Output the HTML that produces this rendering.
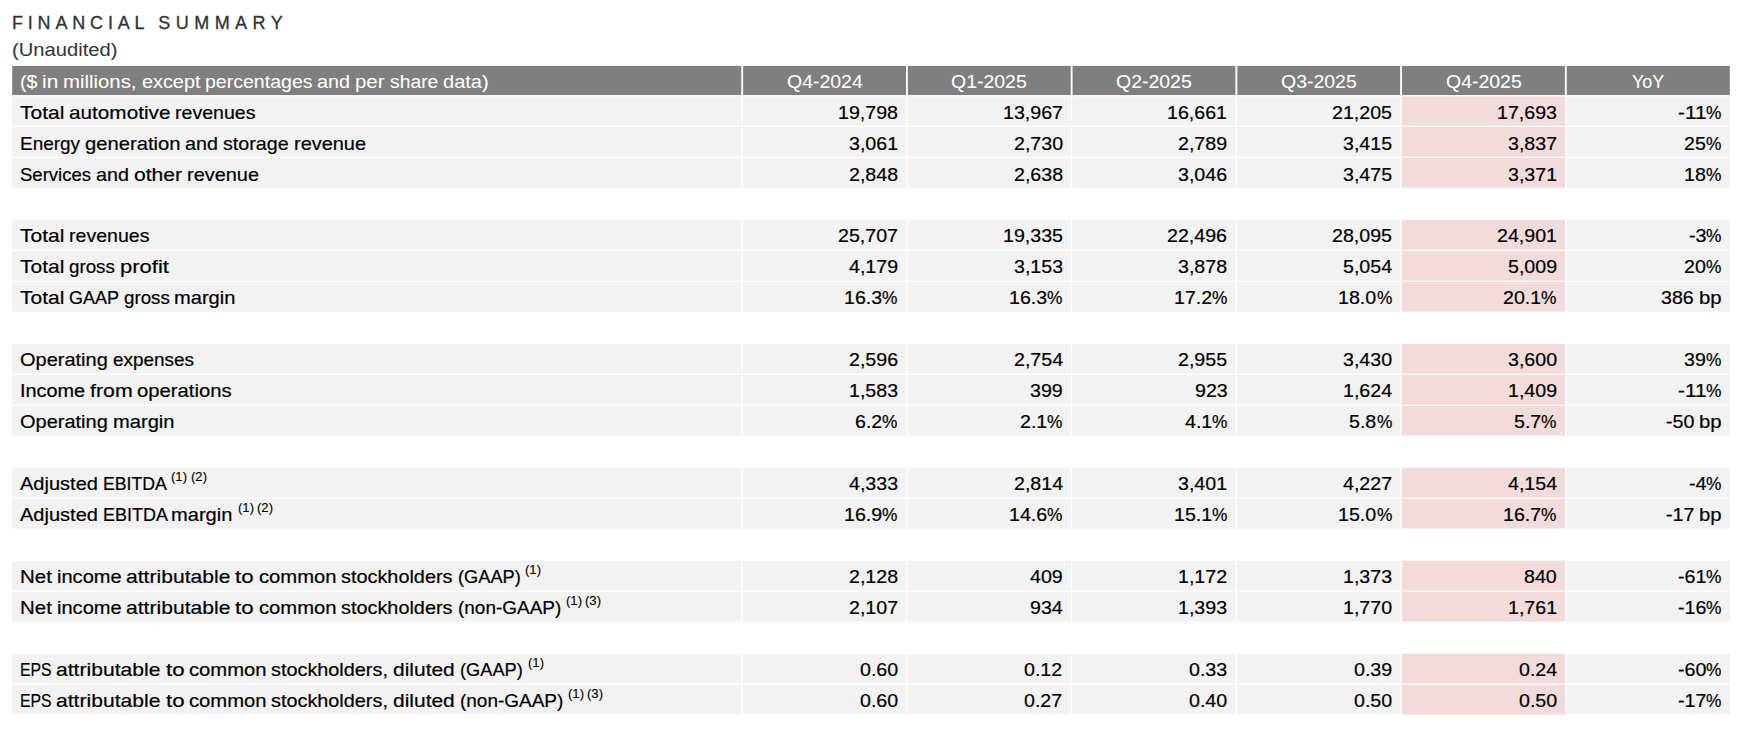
<!DOCTYPE html>
<html lang="en"><head><meta charset="utf-8"><title>Financial Summary</title>
<style>
html,body{margin:0;padding:0;background:#fff;}
body{width:1762px;height:731px;position:relative;overflow:hidden;font-family:"Liberation Sans",sans-serif;color:#000;}
svg{position:absolute;left:0;top:0;}
.t{position:absolute;white-space:nowrap;}
.title{top:11.4px;font-size:18px;line-height:22px;color:#333;-webkit-text-stroke:0.3px currentColor;}
.x{position:absolute;white-space:pre;font-size:19.0px;line-height:30px;height:30px;}
.x i{font-style:normal;position:absolute;left:0;top:0;transform-origin:0 0;}
.x{-webkit-text-stroke:0.2px currentColor;}
.h{color:#fff;-webkit-text-stroke:0.05px currentColor;}
.s{font-size:12.0px;-webkit-text-stroke:0.1px currentColor;}
.sub{color:#33373d;-webkit-text-stroke:0.05px currentColor;}
</style></head>
<body>
<svg width="1762" height="731" viewBox="0 0 1762 731">
<rect x="12.20" y="65.90" width="729.05" height="29.15" fill="#7f7f7f"/>
<rect x="743.15" y="65.90" width="162.82" height="29.15" fill="#7f7f7f"/>
<rect x="907.87" y="65.90" width="162.82" height="29.15" fill="#7f7f7f"/>
<rect x="1072.59" y="65.90" width="162.82" height="29.15" fill="#7f7f7f"/>
<rect x="1237.31" y="65.90" width="162.82" height="29.15" fill="#7f7f7f"/>
<rect x="1402.03" y="65.90" width="162.82" height="29.15" fill="#7f7f7f"/>
<rect x="1566.75" y="65.90" width="163.05" height="29.15" fill="#7f7f7f"/>
<rect x="12.20" y="96.40" width="729.35" height="29.34" fill="#f2f2f2"/>
<rect x="742.85" y="96.40" width="163.42" height="29.34" fill="#f2f2f2"/>
<rect x="907.57" y="96.40" width="163.42" height="29.34" fill="#f2f2f2"/>
<rect x="1072.29" y="96.40" width="163.42" height="29.34" fill="#f2f2f2"/>
<rect x="1237.01" y="96.40" width="163.42" height="29.34" fill="#f2f2f2"/>
<rect x="1401.73" y="96.40" width="163.42" height="29.34" fill="#f2dcdb"/>
<rect x="1566.45" y="96.40" width="163.35" height="29.34" fill="#f2f2f2"/>
<rect x="12.20" y="126.94" width="729.35" height="29.79" fill="#f2f2f2"/>
<rect x="742.85" y="126.94" width="163.42" height="29.79" fill="#f2f2f2"/>
<rect x="907.57" y="126.94" width="163.42" height="29.79" fill="#f2f2f2"/>
<rect x="1072.29" y="126.94" width="163.42" height="29.79" fill="#f2f2f2"/>
<rect x="1237.01" y="126.94" width="163.42" height="29.79" fill="#f2f2f2"/>
<rect x="1401.73" y="126.94" width="163.42" height="29.79" fill="#f2dcdb"/>
<rect x="1566.45" y="126.94" width="163.35" height="29.79" fill="#f2f2f2"/>
<rect x="12.20" y="157.93" width="729.35" height="29.79" fill="#f2f2f2"/>
<rect x="742.85" y="157.93" width="163.42" height="29.79" fill="#f2f2f2"/>
<rect x="907.57" y="157.93" width="163.42" height="29.79" fill="#f2f2f2"/>
<rect x="1072.29" y="157.93" width="163.42" height="29.79" fill="#f2f2f2"/>
<rect x="1237.01" y="157.93" width="163.42" height="29.79" fill="#f2f2f2"/>
<rect x="1401.73" y="157.93" width="163.42" height="29.79" fill="#f2dcdb"/>
<rect x="1566.45" y="157.93" width="163.35" height="29.79" fill="#f2f2f2"/>
<rect x="12.20" y="219.91" width="729.35" height="29.79" fill="#f2f2f2"/>
<rect x="742.85" y="219.91" width="163.42" height="29.79" fill="#f2f2f2"/>
<rect x="907.57" y="219.91" width="163.42" height="29.79" fill="#f2f2f2"/>
<rect x="1072.29" y="219.91" width="163.42" height="29.79" fill="#f2f2f2"/>
<rect x="1237.01" y="219.91" width="163.42" height="29.79" fill="#f2f2f2"/>
<rect x="1401.73" y="219.91" width="163.42" height="29.79" fill="#f2dcdb"/>
<rect x="1566.45" y="219.91" width="163.35" height="29.79" fill="#f2f2f2"/>
<rect x="12.20" y="250.90" width="729.35" height="29.79" fill="#f2f2f2"/>
<rect x="742.85" y="250.90" width="163.42" height="29.79" fill="#f2f2f2"/>
<rect x="907.57" y="250.90" width="163.42" height="29.79" fill="#f2f2f2"/>
<rect x="1072.29" y="250.90" width="163.42" height="29.79" fill="#f2f2f2"/>
<rect x="1237.01" y="250.90" width="163.42" height="29.79" fill="#f2f2f2"/>
<rect x="1401.73" y="250.90" width="163.42" height="29.79" fill="#f2dcdb"/>
<rect x="1566.45" y="250.90" width="163.35" height="29.79" fill="#f2f2f2"/>
<rect x="12.20" y="281.89" width="729.35" height="29.79" fill="#f2f2f2"/>
<rect x="742.85" y="281.89" width="163.42" height="29.79" fill="#f2f2f2"/>
<rect x="907.57" y="281.89" width="163.42" height="29.79" fill="#f2f2f2"/>
<rect x="1072.29" y="281.89" width="163.42" height="29.79" fill="#f2f2f2"/>
<rect x="1237.01" y="281.89" width="163.42" height="29.79" fill="#f2f2f2"/>
<rect x="1401.73" y="281.89" width="163.42" height="29.79" fill="#f2dcdb"/>
<rect x="1566.45" y="281.89" width="163.35" height="29.79" fill="#f2f2f2"/>
<rect x="12.20" y="343.87" width="729.35" height="29.79" fill="#f2f2f2"/>
<rect x="742.85" y="343.87" width="163.42" height="29.79" fill="#f2f2f2"/>
<rect x="907.57" y="343.87" width="163.42" height="29.79" fill="#f2f2f2"/>
<rect x="1072.29" y="343.87" width="163.42" height="29.79" fill="#f2f2f2"/>
<rect x="1237.01" y="343.87" width="163.42" height="29.79" fill="#f2f2f2"/>
<rect x="1401.73" y="343.87" width="163.42" height="29.79" fill="#f2dcdb"/>
<rect x="1566.45" y="343.87" width="163.35" height="29.79" fill="#f2f2f2"/>
<rect x="12.20" y="374.86" width="729.35" height="29.79" fill="#f2f2f2"/>
<rect x="742.85" y="374.86" width="163.42" height="29.79" fill="#f2f2f2"/>
<rect x="907.57" y="374.86" width="163.42" height="29.79" fill="#f2f2f2"/>
<rect x="1072.29" y="374.86" width="163.42" height="29.79" fill="#f2f2f2"/>
<rect x="1237.01" y="374.86" width="163.42" height="29.79" fill="#f2f2f2"/>
<rect x="1401.73" y="374.86" width="163.42" height="29.79" fill="#f2dcdb"/>
<rect x="1566.45" y="374.86" width="163.35" height="29.79" fill="#f2f2f2"/>
<rect x="12.20" y="405.85" width="729.35" height="29.79" fill="#f2f2f2"/>
<rect x="742.85" y="405.85" width="163.42" height="29.79" fill="#f2f2f2"/>
<rect x="907.57" y="405.85" width="163.42" height="29.79" fill="#f2f2f2"/>
<rect x="1072.29" y="405.85" width="163.42" height="29.79" fill="#f2f2f2"/>
<rect x="1237.01" y="405.85" width="163.42" height="29.79" fill="#f2f2f2"/>
<rect x="1401.73" y="405.85" width="163.42" height="29.79" fill="#f2dcdb"/>
<rect x="1566.45" y="405.85" width="163.35" height="29.79" fill="#f2f2f2"/>
<rect x="12.20" y="467.83" width="729.35" height="29.79" fill="#f2f2f2"/>
<rect x="742.85" y="467.83" width="163.42" height="29.79" fill="#f2f2f2"/>
<rect x="907.57" y="467.83" width="163.42" height="29.79" fill="#f2f2f2"/>
<rect x="1072.29" y="467.83" width="163.42" height="29.79" fill="#f2f2f2"/>
<rect x="1237.01" y="467.83" width="163.42" height="29.79" fill="#f2f2f2"/>
<rect x="1401.73" y="467.83" width="163.42" height="29.79" fill="#f2dcdb"/>
<rect x="1566.45" y="467.83" width="163.35" height="29.79" fill="#f2f2f2"/>
<rect x="12.20" y="498.82" width="729.35" height="29.79" fill="#f2f2f2"/>
<rect x="742.85" y="498.82" width="163.42" height="29.79" fill="#f2f2f2"/>
<rect x="907.57" y="498.82" width="163.42" height="29.79" fill="#f2f2f2"/>
<rect x="1072.29" y="498.82" width="163.42" height="29.79" fill="#f2f2f2"/>
<rect x="1237.01" y="498.82" width="163.42" height="29.79" fill="#f2f2f2"/>
<rect x="1401.73" y="498.82" width="163.42" height="29.79" fill="#f2dcdb"/>
<rect x="1566.45" y="498.82" width="163.35" height="29.79" fill="#f2f2f2"/>
<rect x="12.20" y="560.80" width="729.35" height="29.79" fill="#f2f2f2"/>
<rect x="742.85" y="560.80" width="163.42" height="29.79" fill="#f2f2f2"/>
<rect x="907.57" y="560.80" width="163.42" height="29.79" fill="#f2f2f2"/>
<rect x="1072.29" y="560.80" width="163.42" height="29.79" fill="#f2f2f2"/>
<rect x="1237.01" y="560.80" width="163.42" height="29.79" fill="#f2f2f2"/>
<rect x="1401.73" y="560.80" width="163.42" height="29.79" fill="#f2dcdb"/>
<rect x="1566.45" y="560.80" width="163.35" height="29.79" fill="#f2f2f2"/>
<rect x="12.20" y="591.79" width="729.35" height="29.79" fill="#f2f2f2"/>
<rect x="742.85" y="591.79" width="163.42" height="29.79" fill="#f2f2f2"/>
<rect x="907.57" y="591.79" width="163.42" height="29.79" fill="#f2f2f2"/>
<rect x="1072.29" y="591.79" width="163.42" height="29.79" fill="#f2f2f2"/>
<rect x="1237.01" y="591.79" width="163.42" height="29.79" fill="#f2f2f2"/>
<rect x="1401.73" y="591.79" width="163.42" height="29.79" fill="#f2dcdb"/>
<rect x="1566.45" y="591.79" width="163.35" height="29.79" fill="#f2f2f2"/>
<rect x="12.20" y="653.77" width="729.35" height="29.79" fill="#f2f2f2"/>
<rect x="742.85" y="653.77" width="163.42" height="29.79" fill="#f2f2f2"/>
<rect x="907.57" y="653.77" width="163.42" height="29.79" fill="#f2f2f2"/>
<rect x="1072.29" y="653.77" width="163.42" height="29.79" fill="#f2f2f2"/>
<rect x="1237.01" y="653.77" width="163.42" height="29.79" fill="#f2f2f2"/>
<rect x="1401.73" y="653.77" width="163.42" height="29.79" fill="#f2dcdb"/>
<rect x="1566.45" y="653.77" width="163.35" height="29.79" fill="#f2f2f2"/>
<rect x="12.20" y="684.76" width="729.35" height="29.79" fill="#f2f2f2"/>
<rect x="742.85" y="684.76" width="163.42" height="29.79" fill="#f2f2f2"/>
<rect x="907.57" y="684.76" width="163.42" height="29.79" fill="#f2f2f2"/>
<rect x="1072.29" y="684.76" width="163.42" height="29.79" fill="#f2f2f2"/>
<rect x="1237.01" y="684.76" width="163.42" height="29.79" fill="#f2f2f2"/>
<rect x="1401.73" y="684.76" width="163.42" height="29.79" fill="#f2dcdb"/>
<rect x="1566.45" y="684.76" width="163.35" height="29.79" fill="#f2f2f2"/>
</svg>
<div class="t title" style="left:11.9px;top:12px"><span style="letter-spacing:4.84px">FINANCIAL </span><span style="position:absolute;left:146.4px;letter-spacing:5.45px">SUMMARY</span></div>
<div class="x sub" style="left:11.50px;top:35.00px"><i style="left:0.00px;transform:scaleX(1.0615)">(Unaudited)</i></div>
<div class="x h" style="left:19.90px;top:67.00px"><i style="left:0.00px;transform:scaleX(1.0333)">($ </i><i style="left:22.31px;transform:scaleX(1.1003)">in </i><i style="left:43.45px;transform:scaleX(1.0708)">millions, </i><i style="left:121.80px;transform:scaleX(1.0438)">except </i><i style="left:185.09px;transform:scaleX(1.0282)">percentages </i><i style="left:297.50px;transform:scaleX(1.0399)">and </i><i style="left:335.34px;transform:scaleX(1.0756)">per </i><i style="left:369.77px;transform:scaleX(1.0161)">share </i><i style="left:422.94px;transform:scaleX(1.0552)">data)</i></div>
<div class="x h" style="left:786.71px;top:67.00px"><i style="left:0.00px;transform:scaleX(1.0237)">Q4-2024</i></div>
<div class="x h" style="left:951.43px;top:67.00px"><i style="left:0.00px;transform:scaleX(1.0237)">Q1-2025</i></div>
<div class="x h" style="left:1116.15px;top:67.00px"><i style="left:0.00px;transform:scaleX(1.0237)">Q2-2025</i></div>
<div class="x h" style="left:1280.87px;top:67.00px"><i style="left:0.00px;transform:scaleX(1.0237)">Q3-2025</i></div>
<div class="x h" style="left:1445.59px;top:67.00px"><i style="left:0.00px;transform:scaleX(1.0237)">Q4-2025</i></div>
<div class="x h" style="left:1631.97px;top:67.00px"><i style="left:0.00px;transform:scaleX(0.9474)">YoY</i></div>
<div class="x " style="left:19.90px;top:98.00px"><i style="left:0.00px;transform:scaleX(1.1051)">Total </i><i style="left:49.20px;transform:scaleX(1.0913)">automotive </i><i style="left:155.48px;transform:scaleX(1.0298)">revenues</i></div>
<div class="x " style="left:837.89px;top:98.00px"><i style="left:0.00px;transform:scaleX(1.0320)">19,798</i></div>
<div class="x " style="left:1002.61px;top:98.00px"><i style="left:0.00px;transform:scaleX(1.0320)">13,967</i></div>
<div class="x " style="left:1167.33px;top:98.00px"><i style="left:0.00px;transform:scaleX(1.0320)">16,661</i></div>
<div class="x " style="left:1332.05px;top:98.00px"><i style="left:0.00px;transform:scaleX(1.0320)">21,205</i></div>
<div class="x " style="left:1496.77px;top:98.00px"><i style="left:0.00px;transform:scaleX(1.0320)">17,693</i></div>
<div class="x " style="left:1677.61px;top:98.00px"><i style="left:0.00px;transform:scaleX(1.0917)">-11</i><i style="left:28.45px;transform:scaleX(0.9113)">%</i></div>
<div class="x " style="left:19.90px;top:129.00px"><i style="left:0.00px;transform:scaleX(0.9964)">Energy </i><i style="left:64.83px;transform:scaleX(1.0645)">generation </i><i style="left:165.28px;transform:scaleX(1.0399)">and </i><i style="left:203.12px;transform:scaleX(1.0367)">storage </i><i style="left:273.69px;transform:scaleX(1.0491)">revenue</i></div>
<div class="x " style="left:848.81px;top:129.00px"><i style="left:0.00px;transform:scaleX(1.0319)">3,061</i></div>
<div class="x " style="left:1013.53px;top:129.00px"><i style="left:0.00px;transform:scaleX(1.0319)">2,730</i></div>
<div class="x " style="left:1178.25px;top:129.00px"><i style="left:0.00px;transform:scaleX(1.0319)">2,789</i></div>
<div class="x " style="left:1342.97px;top:129.00px"><i style="left:0.00px;transform:scaleX(1.0319)">3,415</i></div>
<div class="x " style="left:1507.69px;top:129.00px"><i style="left:0.00px;transform:scaleX(1.0319)">3,837</i></div>
<div class="x " style="left:1684.22px;top:129.00px"><i style="left:0.00px;transform:scaleX(1.0333)">25</i><i style="left:21.84px;transform:scaleX(0.9113)">%</i></div>
<div class="x " style="left:19.90px;top:160.00px"><i style="left:0.00px;transform:scaleX(0.9756)">Services </i><i style="left:75.94px;transform:scaleX(1.0394)">and </i><i style="left:113.77px;transform:scaleX(1.1118)">other </i><i style="left:166.77px;transform:scaleX(1.0491)">revenue</i></div>
<div class="x " style="left:848.81px;top:160.00px"><i style="left:0.00px;transform:scaleX(1.0319)">2,848</i></div>
<div class="x " style="left:1013.53px;top:160.00px"><i style="left:0.00px;transform:scaleX(1.0319)">2,638</i></div>
<div class="x " style="left:1178.25px;top:160.00px"><i style="left:0.00px;transform:scaleX(1.0319)">3,046</i></div>
<div class="x " style="left:1342.97px;top:160.00px"><i style="left:0.00px;transform:scaleX(1.0319)">3,475</i></div>
<div class="x " style="left:1507.69px;top:160.00px"><i style="left:0.00px;transform:scaleX(1.0319)">3,371</i></div>
<div class="x " style="left:1684.22px;top:160.00px"><i style="left:0.00px;transform:scaleX(1.0333)">18</i><i style="left:21.84px;transform:scaleX(0.9113)">%</i></div>
<div class="x " style="left:19.90px;top:221.00px"><i style="left:0.00px;transform:scaleX(1.1051)">Total </i><i style="left:49.20px;transform:scaleX(1.0298)">revenues</i></div>
<div class="x " style="left:837.89px;top:221.00px"><i style="left:0.00px;transform:scaleX(1.0320)">25,707</i></div>
<div class="x " style="left:1002.61px;top:221.00px"><i style="left:0.00px;transform:scaleX(1.0320)">19,335</i></div>
<div class="x " style="left:1167.33px;top:221.00px"><i style="left:0.00px;transform:scaleX(1.0320)">22,496</i></div>
<div class="x " style="left:1332.05px;top:221.00px"><i style="left:0.00px;transform:scaleX(1.0320)">28,095</i></div>
<div class="x " style="left:1496.77px;top:221.00px"><i style="left:0.00px;transform:scaleX(1.0320)">24,901</i></div>
<div class="x " style="left:1688.53px;top:221.00px"><i style="left:0.00px;transform:scaleX(1.0370)">-3</i><i style="left:17.53px;transform:scaleX(0.9113)">%</i></div>
<div class="x " style="left:19.90px;top:252.00px"><i style="left:0.00px;transform:scaleX(1.1051)">Total </i><i style="left:49.20px;transform:scaleX(0.9876)">gross </i><i style="left:99.95px;transform:scaleX(1.1582)">profit</i></div>
<div class="x " style="left:848.81px;top:252.00px"><i style="left:0.00px;transform:scaleX(1.0319)">4,179</i></div>
<div class="x " style="left:1013.53px;top:252.00px"><i style="left:0.00px;transform:scaleX(1.0319)">3,153</i></div>
<div class="x " style="left:1178.25px;top:252.00px"><i style="left:0.00px;transform:scaleX(1.0319)">3,878</i></div>
<div class="x " style="left:1342.97px;top:252.00px"><i style="left:0.00px;transform:scaleX(1.0319)">5,054</i></div>
<div class="x " style="left:1507.69px;top:252.00px"><i style="left:0.00px;transform:scaleX(1.0319)">5,009</i></div>
<div class="x " style="left:1684.22px;top:252.00px"><i style="left:0.00px;transform:scaleX(1.0333)">20</i><i style="left:21.84px;transform:scaleX(0.9113)">%</i></div>
<div class="x " style="left:19.90px;top:283.00px"><i style="left:0.00px;transform:scaleX(1.1051)">Total </i><i style="left:49.20px;transform:scaleX(0.9470)">GAAP </i><i style="left:103.73px;transform:scaleX(0.9876)">gross </i><i style="left:154.48px;transform:scaleX(1.0581)">margin</i></div>
<div class="x " style="left:844.26px;top:283.00px"><i style="left:0.00px;transform:scaleX(1.0330)">16.3</i><i style="left:38.20px;transform:scaleX(0.9113)">%</i></div>
<div class="x " style="left:1008.98px;top:283.00px"><i style="left:0.00px;transform:scaleX(1.0330)">16.3</i><i style="left:38.20px;transform:scaleX(0.9113)">%</i></div>
<div class="x " style="left:1173.70px;top:283.00px"><i style="left:0.00px;transform:scaleX(1.0330)">17.2</i><i style="left:38.20px;transform:scaleX(0.9113)">%</i></div>
<div class="x " style="left:1338.42px;top:283.00px"><i style="left:0.00px;transform:scaleX(1.0330)">18.0</i><i style="left:38.20px;transform:scaleX(0.9113)">%</i></div>
<div class="x " style="left:1503.14px;top:283.00px"><i style="left:0.00px;transform:scaleX(1.0330)">20.1</i><i style="left:38.20px;transform:scaleX(0.9113)">%</i></div>
<div class="x " style="left:1661.19px;top:283.00px"><i style="left:0.00px;transform:scaleX(1.0335)">386 </i><i style="left:37.62px;transform:scaleX(1.0709)">bp</i></div>
<div class="x " style="left:19.90px;top:345.00px"><i style="left:0.00px;transform:scaleX(1.0519)">Operating </i><i style="left:92.62px;transform:scaleX(0.9960)">expenses</i></div>
<div class="x " style="left:848.81px;top:345.00px"><i style="left:0.00px;transform:scaleX(1.0319)">2,596</i></div>
<div class="x " style="left:1013.53px;top:345.00px"><i style="left:0.00px;transform:scaleX(1.0319)">2,754</i></div>
<div class="x " style="left:1178.25px;top:345.00px"><i style="left:0.00px;transform:scaleX(1.0319)">2,955</i></div>
<div class="x " style="left:1342.97px;top:345.00px"><i style="left:0.00px;transform:scaleX(1.0319)">3,430</i></div>
<div class="x " style="left:1507.69px;top:345.00px"><i style="left:0.00px;transform:scaleX(1.0319)">3,600</i></div>
<div class="x " style="left:1684.22px;top:345.00px"><i style="left:0.00px;transform:scaleX(1.0333)">39</i><i style="left:21.84px;transform:scaleX(0.9113)">%</i></div>
<div class="x " style="left:19.90px;top:376.00px"><i style="left:0.00px;transform:scaleX(1.0456)">Income </i><i style="left:70.02px;transform:scaleX(1.1229)">from </i><i style="left:117.55px;transform:scaleX(1.0653)">operations</i></div>
<div class="x " style="left:848.81px;top:376.00px"><i style="left:0.00px;transform:scaleX(1.0319)">1,583</i></div>
<div class="x " style="left:1029.82px;top:376.00px"><i style="left:0.00px;transform:scaleX(1.0335)">399</i></div>
<div class="x " style="left:1194.54px;top:376.00px"><i style="left:0.00px;transform:scaleX(1.0335)">923</i></div>
<div class="x " style="left:1342.97px;top:376.00px"><i style="left:0.00px;transform:scaleX(1.0319)">1,624</i></div>
<div class="x " style="left:1507.69px;top:376.00px"><i style="left:0.00px;transform:scaleX(1.0319)">1,409</i></div>
<div class="x " style="left:1677.61px;top:376.00px"><i style="left:0.00px;transform:scaleX(1.0917)">-11</i><i style="left:28.45px;transform:scaleX(0.9113)">%</i></div>
<div class="x " style="left:19.90px;top:407.00px"><i style="left:0.00px;transform:scaleX(1.0519)">Operating </i><i style="left:92.62px;transform:scaleX(1.0584)">margin</i></div>
<div class="x " style="left:855.18px;top:407.00px"><i style="left:0.00px;transform:scaleX(1.0325)">6.2</i><i style="left:27.28px;transform:scaleX(0.9113)">%</i></div>
<div class="x " style="left:1019.90px;top:407.00px"><i style="left:0.00px;transform:scaleX(1.0325)">2.1</i><i style="left:27.28px;transform:scaleX(0.9113)">%</i></div>
<div class="x " style="left:1184.62px;top:407.00px"><i style="left:0.00px;transform:scaleX(1.0325)">4.1</i><i style="left:27.28px;transform:scaleX(0.9113)">%</i></div>
<div class="x " style="left:1349.34px;top:407.00px"><i style="left:0.00px;transform:scaleX(1.0325)">5.8</i><i style="left:27.28px;transform:scaleX(0.9113)">%</i></div>
<div class="x " style="left:1514.06px;top:407.00px"><i style="left:0.00px;transform:scaleX(1.0325)">5.7</i><i style="left:27.28px;transform:scaleX(0.9113)">%</i></div>
<div class="x " style="left:1665.52px;top:407.00px"><i style="left:0.00px;transform:scaleX(1.0358)">-50 </i><i style="left:33.30px;transform:scaleX(1.0717)">bp</i></div>
<div class="x " style="left:19.90px;top:469.00px"><i style="left:0.00px;transform:scaleX(1.0541)">Adjusted </i><i style="left:82.81px;transform:scaleX(0.9312)">EBITDA</i></div>
<div class="x s" style="left:171.49px;top:462.00px"><i style="left:0.00px;transform:scaleX(1.0905)">(1) </i><i style="left:19.22px;transform:scaleX(1.0905)">(2)</i></div>
<div class="x " style="left:848.81px;top:469.00px"><i style="left:0.00px;transform:scaleX(1.0319)">4,333</i></div>
<div class="x " style="left:1013.53px;top:469.00px"><i style="left:0.00px;transform:scaleX(1.0319)">2,814</i></div>
<div class="x " style="left:1178.25px;top:469.00px"><i style="left:0.00px;transform:scaleX(1.0319)">3,401</i></div>
<div class="x " style="left:1342.97px;top:469.00px"><i style="left:0.00px;transform:scaleX(1.0319)">4,227</i></div>
<div class="x " style="left:1507.69px;top:469.00px"><i style="left:0.00px;transform:scaleX(1.0319)">4,154</i></div>
<div class="x " style="left:1688.53px;top:469.00px"><i style="left:0.00px;transform:scaleX(1.0370)">-4</i><i style="left:17.53px;transform:scaleX(0.9113)">%</i></div>
<div class="x " style="left:19.90px;top:500.00px"><i style="left:0.00px;transform:scaleX(1.0541)">Adjusted </i><i style="left:82.81px;transform:scaleX(0.9457)">EBITDA </i><i style="left:151.58px;transform:scaleX(1.0581)">margin</i></div>
<div class="x s" style="left:237.82px;top:493.00px"><i style="left:0.00px;transform:scaleX(1.0905)">(1) </i><i style="left:19.22px;transform:scaleX(1.0905)">(2)</i></div>
<div class="x " style="left:844.26px;top:500.00px"><i style="left:0.00px;transform:scaleX(1.0330)">16.9</i><i style="left:38.20px;transform:scaleX(0.9113)">%</i></div>
<div class="x " style="left:1008.98px;top:500.00px"><i style="left:0.00px;transform:scaleX(1.0330)">14.6</i><i style="left:38.20px;transform:scaleX(0.9113)">%</i></div>
<div class="x " style="left:1173.70px;top:500.00px"><i style="left:0.00px;transform:scaleX(1.0330)">15.1</i><i style="left:38.20px;transform:scaleX(0.9113)">%</i></div>
<div class="x " style="left:1338.42px;top:500.00px"><i style="left:0.00px;transform:scaleX(1.0330)">15.0</i><i style="left:38.20px;transform:scaleX(0.9113)">%</i></div>
<div class="x " style="left:1503.14px;top:500.00px"><i style="left:0.00px;transform:scaleX(1.0330)">16.7</i><i style="left:38.20px;transform:scaleX(0.9113)">%</i></div>
<div class="x " style="left:1665.52px;top:500.00px"><i style="left:0.00px;transform:scaleX(1.0358)">-17 </i><i style="left:33.30px;transform:scaleX(1.0717)">bp</i></div>
<div class="x " style="left:19.90px;top:562.00px"><i style="left:0.00px;transform:scaleX(1.0771)">Net </i><i style="left:36.70px;transform:scaleX(1.0559)">income </i><i style="left:106.25px;transform:scaleX(1.1102)">attributable </i><i style="left:215.50px;transform:scaleX(1.1724)">to </i><i style="left:238.95px;transform:scaleX(1.0650)">common </i><i style="left:321.41px;transform:scaleX(1.0454)">stockholders </i><i style="left:437.80px;transform:scaleX(0.9585)">(GAAP)</i></div>
<div class="x s" style="left:525.32px;top:555.00px"><i style="left:0.00px;transform:scaleX(1.0905)">(1)</i></div>
<div class="x " style="left:848.81px;top:562.00px"><i style="left:0.00px;transform:scaleX(1.0319)">2,128</i></div>
<div class="x " style="left:1029.82px;top:562.00px"><i style="left:0.00px;transform:scaleX(1.0335)">409</i></div>
<div class="x " style="left:1178.25px;top:562.00px"><i style="left:0.00px;transform:scaleX(1.0319)">1,172</i></div>
<div class="x " style="left:1342.97px;top:562.00px"><i style="left:0.00px;transform:scaleX(1.0319)">1,373</i></div>
<div class="x " style="left:1523.98px;top:562.00px"><i style="left:0.00px;transform:scaleX(1.0335)">840</i></div>
<div class="x " style="left:1677.61px;top:562.00px"><i style="left:0.00px;transform:scaleX(1.0358)">-61</i><i style="left:28.45px;transform:scaleX(0.9113)">%</i></div>
<div class="x " style="left:19.90px;top:593.00px"><i style="left:0.00px;transform:scaleX(1.0771)">Net </i><i style="left:36.70px;transform:scaleX(1.0559)">income </i><i style="left:106.25px;transform:scaleX(1.1102)">attributable </i><i style="left:215.50px;transform:scaleX(1.1724)">to </i><i style="left:238.95px;transform:scaleX(1.0650)">common </i><i style="left:321.41px;transform:scaleX(1.0454)">stockholders </i><i style="left:437.80px;transform:scaleX(0.9985)">(non-GAAP)</i></div>
<div class="x s" style="left:565.91px;top:586.00px"><i style="left:0.00px;transform:scaleX(1.0905)">(1) </i><i style="left:19.22px;transform:scaleX(1.0905)">(3)</i></div>
<div class="x " style="left:848.81px;top:593.00px"><i style="left:0.00px;transform:scaleX(1.0319)">2,107</i></div>
<div class="x " style="left:1029.82px;top:593.00px"><i style="left:0.00px;transform:scaleX(1.0335)">934</i></div>
<div class="x " style="left:1178.25px;top:593.00px"><i style="left:0.00px;transform:scaleX(1.0319)">1,393</i></div>
<div class="x " style="left:1342.97px;top:593.00px"><i style="left:0.00px;transform:scaleX(1.0319)">1,770</i></div>
<div class="x " style="left:1507.69px;top:593.00px"><i style="left:0.00px;transform:scaleX(1.0319)">1,761</i></div>
<div class="x " style="left:1677.61px;top:593.00px"><i style="left:0.00px;transform:scaleX(1.0358)">-16</i><i style="left:28.45px;transform:scaleX(0.9113)">%</i></div>
<div class="x " style="left:19.90px;top:655.00px"><i style="left:0.00px;transform:scaleX(0.8299)">EPS </i><i style="left:36.42px;transform:scaleX(1.1104)">attributable </i><i style="left:145.67px;transform:scaleX(1.1724)">to </i><i style="left:169.11px;transform:scaleX(1.0650)">common </i><i style="left:251.56px;transform:scaleX(1.0442)">stockholders, </i><i style="left:373.34px;transform:scaleX(1.1032)">diluted </i><i style="left:440.00px;transform:scaleX(0.9585)">(GAAP)</i></div>
<div class="x s" style="left:527.50px;top:648.00px"><i style="left:0.00px;transform:scaleX(1.0905)">(1)</i></div>
<div class="x " style="left:859.67px;top:655.00px"><i style="left:0.00px;transform:scaleX(1.0330)">0.60</i></div>
<div class="x " style="left:1024.39px;top:655.00px"><i style="left:0.00px;transform:scaleX(1.0330)">0.12</i></div>
<div class="x " style="left:1189.11px;top:655.00px"><i style="left:0.00px;transform:scaleX(1.0330)">0.33</i></div>
<div class="x " style="left:1353.83px;top:655.00px"><i style="left:0.00px;transform:scaleX(1.0330)">0.39</i></div>
<div class="x " style="left:1518.55px;top:655.00px"><i style="left:0.00px;transform:scaleX(1.0330)">0.24</i></div>
<div class="x " style="left:1677.61px;top:655.00px"><i style="left:0.00px;transform:scaleX(1.0358)">-60</i><i style="left:28.45px;transform:scaleX(0.9113)">%</i></div>
<div class="x " style="left:19.90px;top:686.00px"><i style="left:0.00px;transform:scaleX(0.8299)">EPS </i><i style="left:36.42px;transform:scaleX(1.1104)">attributable </i><i style="left:145.67px;transform:scaleX(1.1724)">to </i><i style="left:169.11px;transform:scaleX(1.0650)">common </i><i style="left:251.56px;transform:scaleX(1.0442)">stockholders, </i><i style="left:373.34px;transform:scaleX(1.1032)">diluted </i><i style="left:440.00px;transform:scaleX(0.9986)">(non-GAAP)</i></div>
<div class="x s" style="left:568.11px;top:679.00px"><i style="left:0.00px;transform:scaleX(1.0905)">(1) </i><i style="left:19.22px;transform:scaleX(1.0905)">(3)</i></div>
<div class="x " style="left:859.67px;top:686.00px"><i style="left:0.00px;transform:scaleX(1.0330)">0.60</i></div>
<div class="x " style="left:1024.39px;top:686.00px"><i style="left:0.00px;transform:scaleX(1.0330)">0.27</i></div>
<div class="x " style="left:1189.11px;top:686.00px"><i style="left:0.00px;transform:scaleX(1.0330)">0.40</i></div>
<div class="x " style="left:1353.83px;top:686.00px"><i style="left:0.00px;transform:scaleX(1.0330)">0.50</i></div>
<div class="x " style="left:1518.55px;top:686.00px"><i style="left:0.00px;transform:scaleX(1.0330)">0.50</i></div>
<div class="x " style="left:1677.61px;top:686.00px"><i style="left:0.00px;transform:scaleX(1.0358)">-17</i><i style="left:28.45px;transform:scaleX(0.9113)">%</i></div>
</body></html>
